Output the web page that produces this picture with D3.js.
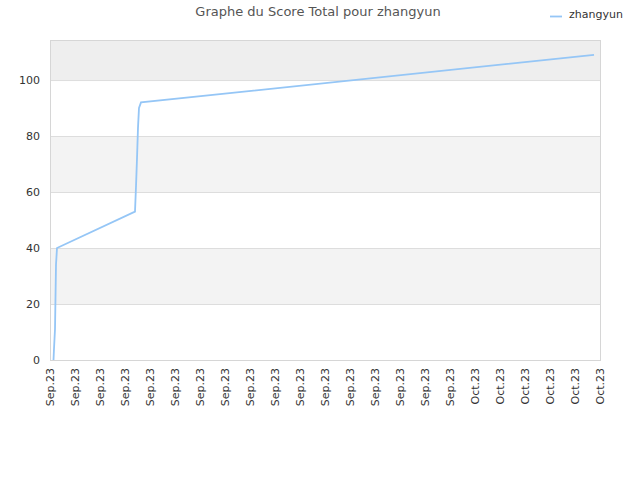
<!DOCTYPE html>
<html lang="fr">
<head>
<meta charset="utf-8">
<title>Graphe du Score Total pour zhangyun</title>
<script src="https://d3js.org/d3.v7.min.js"></script>
<style>
  body { margin: 0; background: #fff; font-family: "DejaVu Sans", sans-serif; }
</style>
</head>
<body>
<script>
// x position measured in tick steps (0 = first tick, 22 = last tick)
var tickLabels = ["Sep.23","Sep.23","Sep.23","Sep.23","Sep.23","Sep.23","Sep.23","Sep.23",
  "Sep.23","Sep.23","Sep.23","Sep.23","Sep.23","Sep.23","Sep.23","Sep.23","Sep.23",
  "Oct.23","Oct.23","Oct.23","Oct.23","Oct.23","Oct.23"];
var timeSteps = [0.14, 0.16, 0.2, 0.24, 0.28, 3.4, 3.44, 3.48, 3.52, 3.56, 3.64, 21.76];
var scores    = [0,    4,    11,  34,   40,   53,  62,   72,   83,   90,   92,   109];
var yTicks = [0, 20, 40, 60, 80, 100];

var w = 640, h = 480;
var m = { left: 50, right: 40, top: 40, bottom: 120 };

var svg = d3.select("body").append("svg")
  .attr("width", w).attr("height", h);

var x = d3.scaleLinear().domain([0, tickLabels.length - 1]).range([m.left, w - m.right]);
var y = d3.scaleLinear().domain([0, 114.3]).range([h - m.bottom, m.top]);

// alternating bands
var bands = yTicks.map(function (v, i) {
  return { lo: v, hi: i < yTicks.length - 1 ? yTicks[i + 1] : 114.3, i: i };
});
svg.append("g").selectAll("rect")
  .data(bands)
  .enter().append("rect")
  .attr("x", m.left)
  .attr("width", w - m.right - m.left)
  .attr("y", function (d) { return y(d.hi); })
  .attr("height", function (d) { return y(d.lo) - y(d.hi); })
  .attr("fill", function (d) {
    if (d.i === bands.length - 1) return "#eeeeee";
    return d.i % 2 ? "#f3f3f3" : "#ffffff";
  });

// grid lines
svg.append("g").selectAll("line")
  .data(yTicks.slice(1))
  .enter().append("line")
  .attr("x1", m.left).attr("x2", w - m.right)
  .attr("y1", function (d) { return y(d) + 0.5; })
  .attr("y2", function (d) { return y(d) + 0.5; })
  .attr("stroke", "#dddddd");

// frame
svg.append("rect")
  .attr("x", m.left + 0.5).attr("y", m.top + 0.5)
  .attr("width", w - m.right - m.left).attr("height", h - m.bottom - m.top)
  .attr("fill", "none").attr("stroke", "#d6d6d6");

// y axis
var axisY = d3.axisLeft(y).tickValues(yTicks).tickSize(0).tickPadding(10);
var gy = svg.append("g")
  .attr("transform", "translate(" + m.left + ",0)")
  .call(axisY);
gy.select(".domain").remove();
gy.selectAll("text").attr("fill", "#333").style("font-size", "11px")
  .style("font-family", "DejaVu Sans, sans-serif");

// x axis
var axisX = d3.axisBottom(x)
  .tickValues(d3.range(tickLabels.length))
  .tickFormat(function (i) { return tickLabels[i]; })
  .tickSize(0);
var gx = svg.append("g")
  .attr("transform", "translate(0," + (h - m.bottom) + ")")
  .call(axisX);
gx.select(".domain").remove();
gx.selectAll("text")
  .attr("fill", "#333")
  .style("font-size", "11px")
  .style("font-family", "DejaVu Sans, sans-serif")
  .attr("text-anchor", "end")
  .attr("transform", "rotate(-90)")
  .attr("x", -8)
  .attr("y", 0)
  .attr("dy", "0.35em");

// line
var line = d3.line()
  .x(function (d, i) { return x(timeSteps[i]); })
  .y(function (d) { return y(d); });
svg.append("path")
  .datum(scores)
  .attr("d", line)
  .attr("fill", "none")
  .attr("stroke", "#95c6f6")
  .attr("stroke-width", 1.8);

// title
svg.append("text")
  .attr("x", 318).attr("y", 16)
  .attr("text-anchor", "middle")
  .attr("fill", "#555")
  .style("font-size", "13px")
  .text("Graphe du Score Total pour zhangyun");

// legend
svg.append("line")
  .attr("x1", 550).attr("x2", 562)
  .attr("y1", 16.5).attr("y2", 16.5)
  .attr("stroke", "#95c6f6").attr("stroke-width", 1.8);
svg.append("text")
  .attr("x", 569).attr("y", 18)
  .attr("fill", "#333")
  .style("font-size", "11px")
  .text("zhangyun");
</script>
</body>
</html>
